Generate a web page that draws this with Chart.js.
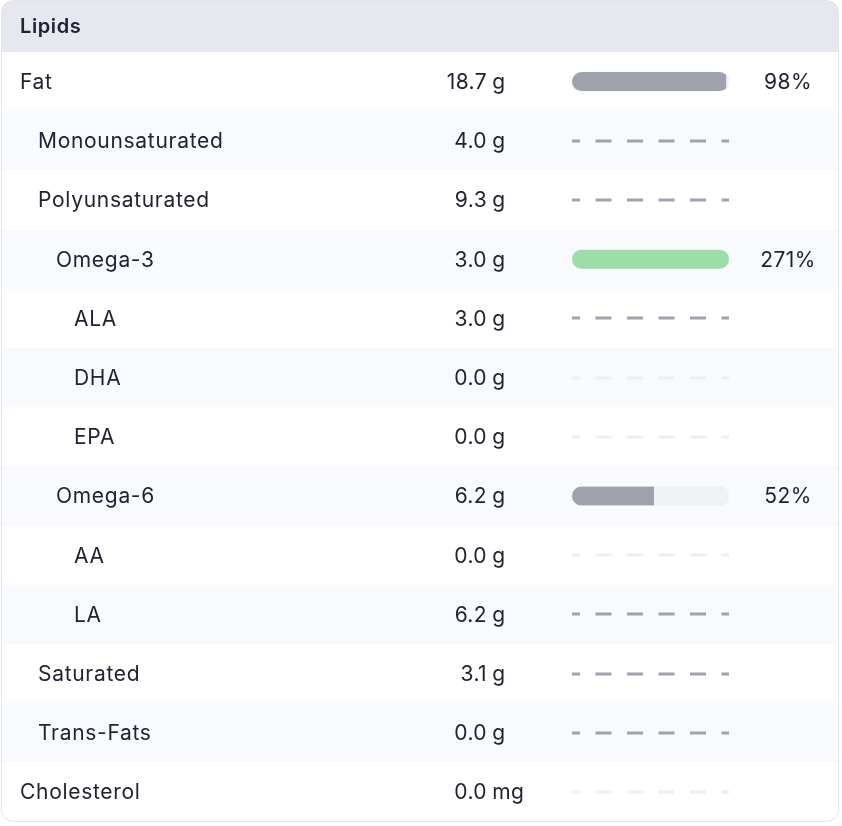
<!DOCTYPE html>
<html>
<head>
<meta charset="utf-8">
<title>Lipids</title>
<script src="https://cdn.jsdelivr.net/npm/chart.js@4.4.1/dist/chart.umd.min.js"></script>
<style>
  html, body { margin: 0; padding: 0; background: #ffffff; }
  canvas { display: block; }
</style>
</head>
<body>
<canvas id="lipidsChart" width="842" height="826"></canvas>
<script>
// rows of the panel
const labels = ['Fat', 'Monounsaturated', 'Polyunsaturated', 'Omega-3', 'ALA', 'DHA', 'EPA',
    'Omega-6', 'AA', 'LA', 'Saturated', 'Trans-Fats', 'Cholesterol'];
const levels = [0, 1, 1, 2, 3, 3, 3, 2, 3, 3, 1, 1, 0];
const amounts = [18.7, 4.0, 9.3, 3.0, 3.0, 0.0, 0.0, 6.2, 0.0, 6.2, 3.1, 0.0, 0.0];
const units = ['g', 'g', 'g', 'g', 'g', 'g', 'g', 'g', 'g', 'g', 'g', 'g', 'mg'];
// percent of target, null where there is no target
const percents = [98, null, null, 271, null, null, null, 52, null, null, null, null, null];
// rows that were logged (dark placeholder) vs missing (faint placeholder)
const logged = [true, true, true, true, true, false, false, true, false, true, true, true, false];

const title = 'Lipids';
const textColor = '#222331';
const fillGrey = '#a0a2ad';
const fillGreen = '#9bdea8';
const trackColor = '#f1f1f8';
const barHeight = 19;

const font = '"Inter", "Noto Sans", sans-serif';

function roundRect(c, x, y, w, h, r) {
    c.beginPath();
    c.moveTo(x + r, y);
    c.lineTo(x + w - r, y);
    c.arcTo(x + w, y, x + w, y + r, r);
    c.lineTo(x + w, y + h - r);
    c.arcTo(x + w, y + h, x + w - r, y + h, r);
    c.lineTo(x + r, y + h);
    c.arcTo(x, y + h, x, y + h - r, r);
    c.lineTo(x, y + r);
    c.arcTo(x, y, x + r, y, r);
    c.closePath();
}

const panelPlugin = {
    id: 'panel',
    beforeDraw(chart) {
        const c = chart.ctx;
        const y = chart.scales.y;
        const x = chart.scales.x;
        const rowH = y.getPixelForValue(1) - y.getPixelForValue(0);

        c.save();
        roundRect(c, 1.5, 0.5, 837, 821, 12);
        c.fillStyle = '#ffffff';
        c.fill();
        c.clip();

        // header
        c.fillStyle = '#e7e7ef';
        c.fillRect(0, 0, 842, y.getPixelForValue(0) - rowH / 2);

        // striped rows
        labels.forEach((l, i) => {
            if (i % 2 === 1) {
                c.fillStyle = '#f9fafe';
                c.fillRect(0, y.getPixelForValue(i) - rowH / 2, 842, rowH);
            }
        });
        c.restore();

        c.save();
        roundRect(c, 1.5, 0.5, 837, 821, 12);
        c.strokeStyle = '#e3e3eb';
        c.lineWidth = 1;
        c.stroke();
        c.restore();

        // dashed placeholder where there is no target
        const x0 = x.getPixelForValue(0);
        const x1 = x.getPixelForValue(100);
        c.save();
        c.lineWidth = 3;
        c.setLineDash([16, 15.5]);
        c.lineDashOffset = 8;
        percents.forEach((p, i) => {
            if (p !== null) return;
            const py = Math.round(y.getPixelForValue(i));
            c.strokeStyle = logged[i] ? '#a0a2ad' : '#eeeef6';
            c.beginPath();
            c.moveTo(x0, py);
            c.lineTo(x1, py);
            c.stroke();
        });
        c.restore();
    },
    beforeDatasetDraw(chart, args) {
        if (args.index !== 0) return;
        const c = chart.ctx;
        const x = chart.scales.x;
        const y = chart.scales.y;
        const x0 = x.getPixelForValue(0);
        const x1 = x.getPixelForValue(100);
        c.save();
        c.beginPath();
        percents.forEach((p, i) => {
            if (p === null) return;
            const py = y.getPixelForValue(i) - barHeight / 2;
            const r = barHeight / 2;
            c.moveTo(x0 + r, py);
            c.lineTo(x1 - r, py);
            c.arc(x1 - r, py + r, r, -Math.PI / 2, Math.PI / 2);
            c.lineTo(x0 + r, py + barHeight);
            c.arc(x0 + r, py + r, r, Math.PI / 2, Math.PI * 1.5);
            c.closePath();
        });
        c.clip();
    },
    afterDatasetDraw(chart, args) {
        if (args.index !== 0) return;
        chart.ctx.restore();
    },
    afterDraw(chart) {
        const c = chart.ctx;
        const y = chart.scales.y;
        const rowH = y.getPixelForValue(1) - y.getPixelForValue(0);
        c.save();
        c.fillStyle = textColor;
        c.textBaseline = 'middle';

        c.font = '600 20px ' + font;
        c.letterSpacing = '0.6px';
        c.textAlign = 'left';
        c.fillText(title, 20, (y.getPixelForValue(0) - rowH / 2) / 2 + 1);

        c.font = '400 21px ' + font;
        labels.forEach((l, i) => {
            const py = y.getPixelForValue(i) + 1;
            c.letterSpacing = '0.7px';
            c.textAlign = 'left';
            c.fillText(l, 20 + levels[i] * 18, py);

            c.letterSpacing = '0.4px';
            const spaceW = c.measureText(' ').width;
            c.textAlign = 'right';
            c.fillText(amounts[i].toFixed(1), 487, py);
            c.textAlign = 'left';
            c.fillText(units[i], 487 + spaceW - 1, py);

            if (percents[i] !== null) {
                c.textAlign = 'center';
                c.fillText(percents[i] + '%', 788, py);
            }
        });
        c.restore();
    }
};

const ctx = document.getElementById('lipidsChart').getContext('2d');
const lipidsChart = new Chart(ctx, {
    type: 'bar',
    data: {
        labels: labels,
        datasets: [{
            label: 'Intake',
            data: percents.map(p => p === null ? null : Math.min(p, 100)),
            backgroundColor: percents.map(p => p !== null && p >= 100 ? fillGreen : fillGrey),
            borderRadius: 0,
            borderSkipped: false,
            barThickness: barHeight,
            grouped: false,
            order: 0
        }, {
            label: 'Target',
            data: percents.map(p => p === null ? null : 100),
            backgroundColor: trackColor,
            borderRadius: barHeight / 2,
            borderSkipped: false,
            barThickness: barHeight,
            grouped: false,
            order: 1
        }]
    },
    options: {
        indexAxis: 'y',
        responsive: false,
        animation: false,
        layout: { padding: { left: 572, right: 113, top: 52, bottom: 4.4 } },
        scales: {
            x: { display: false, min: 0, max: 100 },
            y: { display: false }
        },
        plugins: {
            legend: { display: false },
            tooltip: { enabled: false }
        }
    },
    plugins: [panelPlugin]
});
</script>
</body>
</html>
